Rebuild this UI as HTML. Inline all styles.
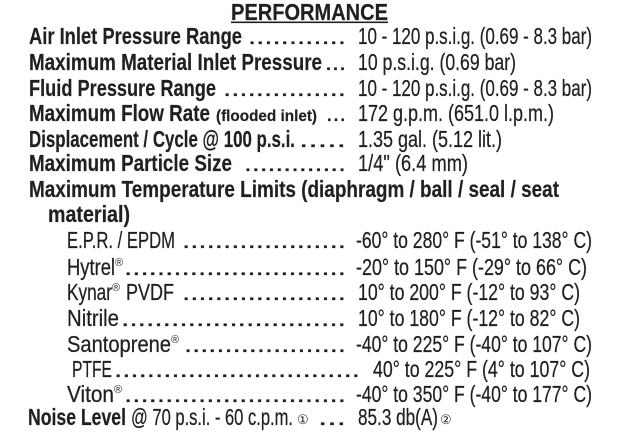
<!DOCTYPE html>
<html><head><meta charset="utf-8"><style>
html,body{margin:0;padding:0;background:#fff;width:624px;height:435px;overflow:hidden}
svg{display:block}
text{font-family:"Liberation Sans",sans-serif;fill:#231f20;font-size:23px;stroke:#231f20;stroke-width:0.25}
.b{font-weight:bold;stroke-width:0.2}
.r{font-size:11px;stroke-width:0}
</style></head><body>
<svg width="624" height="435" viewBox="0 0 624 435">
<text class="b" x="231" y="20" textLength="157" lengthAdjust="spacingAndGlyphs">PERFORMANCE</text>
<rect x="231" y="21.5" width="157" height="1.6" fill="#231f20"/>

<text class="b" x="29" y="44" textLength="213" lengthAdjust="spacingAndGlyphs">Air Inlet Pressure Range</text>
<text x="248" y="44" textLength="98" lengthAdjust="spacingAndGlyphs">............</text>
<text x="358" y="44" textLength="234" lengthAdjust="spacingAndGlyphs">10 - 120 p.s.i.g. (0.69 - 8.3 bar)</text>

<text class="b" x="29" y="70" textLength="293" lengthAdjust="spacingAndGlyphs">Maximum Material Inlet Pressure</text>
<text x="325" y="70" textLength="21" lengthAdjust="spacingAndGlyphs">...</text>
<text x="358" y="70" textLength="158" lengthAdjust="spacingAndGlyphs">10 p.s.i.g. (0.69 bar)</text>

<text class="b" x="29" y="96" textLength="187" lengthAdjust="spacingAndGlyphs">Fluid Pressure Range</text>
<text x="223" y="96" textLength="123" lengthAdjust="spacingAndGlyphs">...............</text>
<text x="358" y="96" textLength="234" lengthAdjust="spacingAndGlyphs">10 - 120 p.s.i.g. (0.69 - 8.3 bar)</text>

<text class="b" x="29" y="121" textLength="181" lengthAdjust="spacingAndGlyphs">Maximum Flow Rate</text>
<text class="b" x="216" y="121" textLength="101" lengthAdjust="spacingAndGlyphs" style="font-size:16px">(flooded inlet)</text>
<text x="326" y="121" textLength="20" lengthAdjust="spacingAndGlyphs">...</text>
<text x="358" y="121" textLength="196" lengthAdjust="spacingAndGlyphs">172 g.p.m. (651.0 l.p.m.)</text>

<text class="b" x="29" y="147" textLength="266" lengthAdjust="spacingAndGlyphs">Displacement / Cycle @ 100 p.s.i.</text>
<text x="299" y="147" textLength="47" lengthAdjust="spacingAndGlyphs">.....</text>
<text x="358" y="147" textLength="144" lengthAdjust="spacingAndGlyphs">1.35 gal. (5.12 lit.)</text>

<text class="b" x="29" y="171" textLength="203" lengthAdjust="spacingAndGlyphs">Maximum Particle Size</text>
<text x="244" y="171" textLength="102" lengthAdjust="spacingAndGlyphs">.............</text>
<text x="358" y="171" textLength="110" lengthAdjust="spacingAndGlyphs">1/4" (6.4 mm)</text>

<text class="b" x="29" y="197" textLength="530" lengthAdjust="spacingAndGlyphs">Maximum Temperature Limits (diaphragm / ball / seal / seat</text>
<text class="b" x="48" y="222" textLength="82" lengthAdjust="spacingAndGlyphs">material)</text>

<text x="67" y="248" textLength="108" lengthAdjust="spacingAndGlyphs">E.P.R. / EPDM</text>
<text x="182" y="248" textLength="164" lengthAdjust="spacingAndGlyphs">....................</text>
<text x="356" y="248" textLength="236" lengthAdjust="spacingAndGlyphs">-60° to 280° F (-51° to 138° C)</text>

<text x="67" y="275" textLength="48" lengthAdjust="spacingAndGlyphs">Hytrel</text>
<text class="r" x="115" y="266">®</text>
<text x="124" y="275" textLength="222" lengthAdjust="spacingAndGlyphs">...........................</text>
<text x="356" y="275" textLength="231" lengthAdjust="spacingAndGlyphs">-20° to 150° F (-29° to 66° C)</text>

<text x="67" y="300" textLength="45" lengthAdjust="spacingAndGlyphs">Kynar</text>
<text class="r" x="112" y="291">®</text>
<text x="126" y="300" textLength="48" lengthAdjust="spacingAndGlyphs">PVDF</text>
<text x="182" y="300" textLength="164" lengthAdjust="spacingAndGlyphs">....................</text>
<text x="358" y="300" textLength="222" lengthAdjust="spacingAndGlyphs">10° to 200° F (-12° to 93° C)</text>

<text x="67" y="326" textLength="52" lengthAdjust="spacingAndGlyphs">Nitrile</text>
<text x="121" y="326" textLength="225" lengthAdjust="spacingAndGlyphs">...........................</text>
<text x="358" y="326" textLength="222" lengthAdjust="spacingAndGlyphs">10° to 180° F (-12° to 82° C)</text>

<text x="67" y="352" textLength="104" lengthAdjust="spacingAndGlyphs">Santoprene</text>
<text class="r" x="171" y="343">®</text>
<text x="184" y="352" textLength="162" lengthAdjust="spacingAndGlyphs">....................</text>
<text x="356" y="352" textLength="236" lengthAdjust="spacingAndGlyphs">-40° to 225° F (-40° to 107° C)</text>

<text x="72" y="377" textLength="40" lengthAdjust="spacingAndGlyphs">PTFE</text>
<text x="114" y="377" textLength="246" lengthAdjust="spacingAndGlyphs">..............................</text>
<text x="373" y="377" textLength="217" lengthAdjust="spacingAndGlyphs">40° to 225° F (4° to 107° C)</text>

<text x="67" y="402" textLength="47" lengthAdjust="spacingAndGlyphs">Viton</text>
<text class="r" x="114" y="393">®</text>
<text x="124" y="402" textLength="222" lengthAdjust="spacingAndGlyphs">...........................</text>
<text x="356" y="402" textLength="236" lengthAdjust="spacingAndGlyphs">-40° to 350° F (-40° to 177° C)</text>

<text class="b" x="28" y="425" textLength="98" lengthAdjust="spacingAndGlyphs">Noise Level</text>
<text x="131" y="425" textLength="162" lengthAdjust="spacingAndGlyphs">@ 70 p.s.i. - 60 c.p.m.</text>
<text class="r" x="297" y="424" style="font-size:13px">①</text>
<text x="318" y="425" textLength="28" lengthAdjust="spacingAndGlyphs">...</text>
<text x="358" y="425" textLength="80" lengthAdjust="spacingAndGlyphs">85.3 db(A)</text>
<text class="r" x="440" y="424" style="font-size:13px">②</text>
</svg>
</body></html>
